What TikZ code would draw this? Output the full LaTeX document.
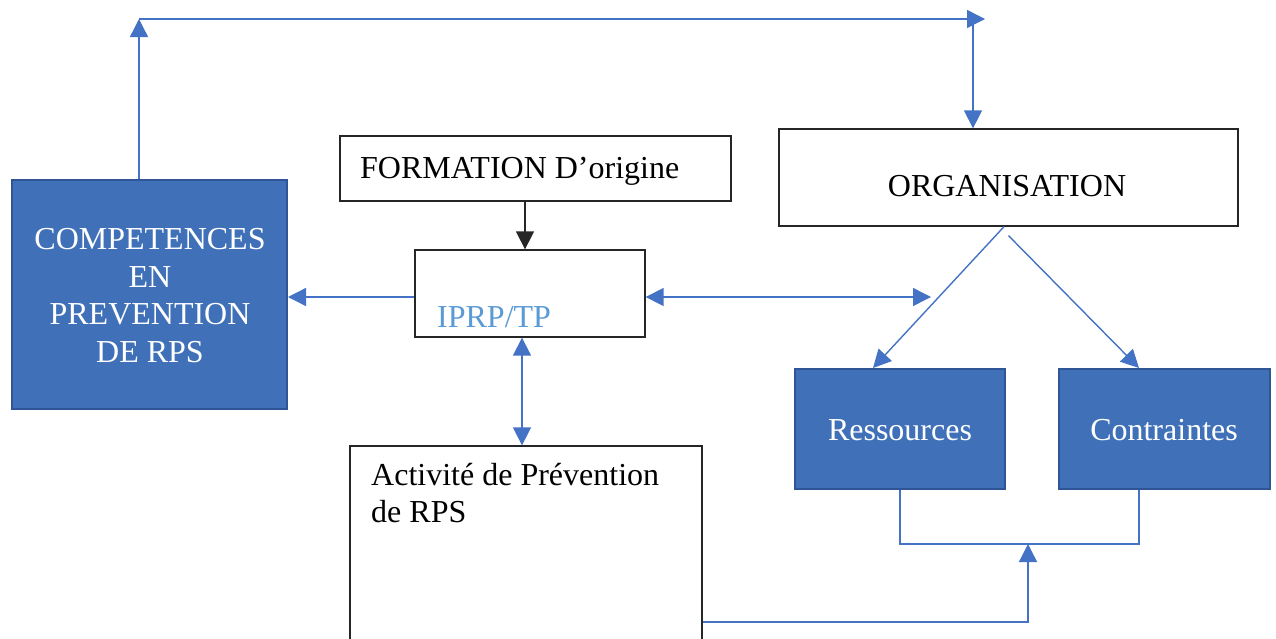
\documentclass[tikz,border=0pt]{standalone}
\usepackage{fontspec}
\setmainfont{Liberation Serif}
\usetikzlibrary{arrows.meta,calc}
\definecolor{boxblue}{RGB}{64,113,184}
\definecolor{boxedge}{RGB}{47,85,150}
\definecolor{linkblue}{RGB}{68,114,196}
\definecolor{textblue}{RGB}{91,155,213}
\begin{document}
\begin{tikzpicture}[x=1pt,y=-1pt,
  bluebox/.style={rectangle,draw=boxedge,fill=boxblue,line width=2pt,inner sep=0pt},
  whitebox/.style={rectangle,draw=black!85,fill=white,line width=1.3pt,inner sep=0pt},
  txt/.style={font=\fontsize{32}{37.5}\selectfont,inner sep=0pt},
  wtxt/.style={txt,text=white},
  link/.style={draw=linkblue,line width=1.4pt},
  tip/.style={-{Triangle[length=18pt,width=18pt]}},
  tips/.style={{Triangle[length=18pt,width=18pt]}-{Triangle[length=18pt,width=18pt]}}
]
\useasboundingbox (0,0) rectangle (1276,638);

% boxes
\node[bluebox,minimum width=275pt,minimum height=229pt] (comp) at (149.5,294.5) {};
\node[whitebox,minimum width=391pt,minimum height=65pt] (form) at (535.5,168.5) {};
\node[whitebox,minimum width=230pt,minimum height=87pt] (iprp) at (530,293.5) {};
\node[whitebox,minimum width=459pt,minimum height=97pt] (org) at (1008.5,177.5) {};
\node[whitebox,minimum width=352pt,minimum height=214pt] (act) at (526,553) {};
\node[bluebox,minimum width=210pt,minimum height=120pt] (res) at (900,429) {};
\node[bluebox,minimum width=211pt,minimum height=120pt] (con) at (1164.5,429) {};

% texts
\node[wtxt,align=center] (tcomp) at (150,295.5) {COMPETENCES\\EN\\PREVENTION\\DE RPS};
\node[txt,anchor=base west] (tform) at (360,178) {FORMATION D’origine};
\node[txt,anchor=base west,text=textblue] (tiprp) at (437,327) {IPRP/TP};
\node[txt,anchor=base] (torg) at (1007,196) {ORGANISATION};
\node[txt,anchor=base west] (tact1) at (371,485) {Activité de Prévention};
\node[txt,anchor=base west] (tact2) at (371,522) {de RPS};
\node[wtxt,anchor=base] (tres) at (900,440) {Ressources};
\node[wtxt,anchor=base] (tcon) at (1164,440) {Contraintes};

% helper coordinates
\coordinate (tl) at (139,19);
\coordinate (tr) at (985,19);
\coordinate (tv) at (973,19);
\coordinate (fa) at (525,0);
\coordinate (ya) at (0,297);
\coordinate (dr) at (931,297);
\coordinate (va) at (522,0);
\coordinate (o1) at ($(org.south)+(-4.5,0)$);
\coordinate (o2) at ($(org.south)+(0,9)$);
\coordinate (r1) at ($(res.north)+(-27,0)$);
\coordinate (c1) at ($(con.north)+(-25.5,0)$);
\coordinate (cb) at (1139,0);
\coordinate (yb) at (0,544);
\coordinate (ua) at (1028,0);
\coordinate (yc) at (0,622);

% connectors
\draw[link,tip] (tl |- comp.north) -- (tl);
\draw[link,tip] (tl) -- (tr);
\draw[link,tip] (tv) -- (tv |- org.north);
\draw[line width=1.4pt,draw=black!85,tip] (fa |- form.south) -- (fa |- iprp.north);
\draw[link,tip] (iprp.west |- ya) -- (comp.east |- ya);
\draw[link,tips] (iprp.east |- ya) -- (dr);
\draw[link,tips] (va |- iprp.south) -- (va |- act.north);
\draw[link,tip] (o1) -- (r1);
\draw[link,tip] (o2) -- (c1);
\draw[link] (res.south) -- (res.south |- yb) -- (cb |- yb) -- (cb |- con.south);
\draw[link,tip] (act.east |- yc) -- (ua |- yc) -- (ua |- yb);
\end{tikzpicture}
\end{document}
